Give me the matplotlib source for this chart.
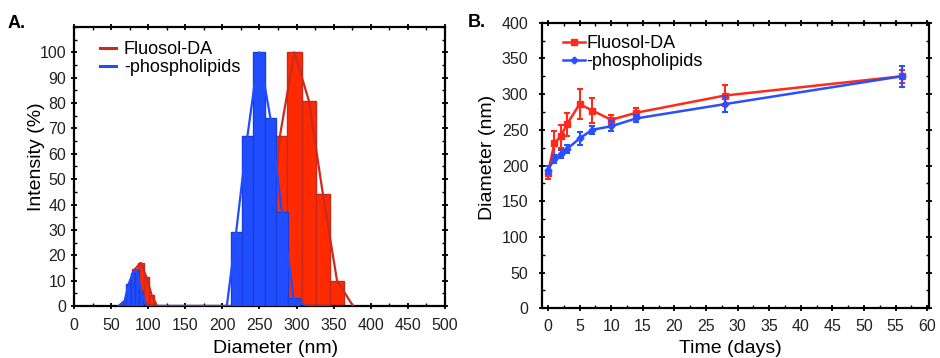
import numpy as np
import matplotlib
matplotlib.use("Agg")
import matplotlib.pyplot as plt
from matplotlib.ticker import MultipleLocator
from matplotlib.lines import Line2D

plt.rcParams['font.family'] = ['Liberation Sans', 'DejaVu Sans']

# ---------------- Panel A data (DLS size distribution) ----------------
red_small_edges = [66, 71, 78, 86, 94, 101, 108]
red_small_heights = [2, 7.5, 14.5, 17, 11.5, 4.5]
red_big_edges = [268, 287, 307, 326, 345, 364]
red_big_heights = [67, 100, 81, 44, 10]

blue_small_edges = [66, 70.5, 76.5, 82, 87.5, 93]
blue_small_heights = [2, 8.5, 13, 14, 6]
blue_big_edges = [211, 226, 241.5, 257, 272.5, 288, 304]
blue_big_heights = [29, 67, 100, 74, 37, 3]

red_zero_x = [62, 112, 258, 376]
blue_zero_x = [60, 98, 206, 312, 345]

# ---------------- Panel B data (size vs time) ----------------
days = [0, 1, 2, 3, 5, 7, 10, 14, 28, 56]
fluosol = [190, 231, 241, 258, 286, 277, 264, 274, 298, 325]
fluosol_err = [9, 17, 16, 16, 21, 18, 7, 6, 15, 9]
phospho = [194, 209, 216, 223, 238, 250, 255, 266, 286, 325]
phospho_err = [6, 6, 6, 6, 9, 6, 7, 5, 11, 15]

label_red = "Fluosol-DA"
label_blue = "-phospholipids"

RED_BAR = "#ff2a00"
RED_EDGE = "#c8281e"
RED_LINE = "#cc2a1e"
BLUE_BAR = "#1f4dff"
BLUE_EDGE = "#1a3fd8"
BLUE_LINE = "#1f4dff"
B_RED = "#ff2a1a"
B_BLUE = "#2a4fff"


def centers(edges):
    e = np.asarray(edges, dtype=float)
    return (e[:-1] + e[1:]) / 2


def widths(edges):
    e = np.asarray(edges, dtype=float)
    return e[1:] - e[:-1]


fig = plt.figure(figsize=(9.4, 3.58), dpi=100)
axA = fig.add_axes([0.0787, 0.1453, 0.3947, 0.7793])
axB = fig.add_axes([0.5763, 0.1388, 0.412, 0.7978])

# ----- Panel A -----
for edges, h in [(red_small_edges, red_small_heights), (red_big_edges, red_big_heights)]:
    axA.bar(edges[:-1], h, width=widths(edges), align='edge', color=RED_BAR,
            edgecolor=RED_EDGE, linewidth=1.0, zorder=2)
red_x = np.concatenate([[red_zero_x[0]], centers(red_small_edges), red_zero_x[1:3],
                        centers(red_big_edges), [red_zero_x[3]]])
red_y = np.concatenate([[0], red_small_heights, [0, 0], red_big_heights, [0]])
axA.plot(red_x, red_y, color=RED_LINE, lw=1.6, zorder=3)

for edges, h in [(blue_small_edges, blue_small_heights), (blue_big_edges, blue_big_heights)]:
    axA.bar(edges[:-1], h, width=widths(edges), align='edge', color=BLUE_BAR,
            edgecolor=BLUE_EDGE, linewidth=1.0, zorder=4)
blue_x = np.concatenate([[blue_zero_x[0]], centers(blue_small_edges), blue_zero_x[1:3],
                         centers(blue_big_edges), blue_zero_x[3:]])
blue_y = np.concatenate([[0], blue_small_heights, [0, 0], blue_big_heights, [0, 0]])
axA.plot(blue_x, blue_y, color=BLUE_LINE, lw=1.6, zorder=5)

handlesA = [Line2D([], [], color=RED_LINE, lw=2.2), Line2D([], [], color=BLUE_LINE, lw=2.2)]

axA.set_xlim(0, 500)
axA.set_ylim(0, 110)
axA.xaxis.set_major_locator(MultipleLocator(50))
axA.xaxis.set_minor_locator(MultipleLocator(25))
axA.yaxis.set_minor_locator(MultipleLocator(5))
axA.set_yticks(np.arange(0, 101, 10))
axA.set_xlabel("Diameter (nm)", fontsize=14)
axA.set_ylabel("Intensity (%)", fontsize=14)
axA.xaxis.set_label_coords(0.544, -0.122)
axA.yaxis.set_label_coords(-0.077, 0.534)
axA.legend(handlesA, [label_red, label_blue], loc='upper left',
           bbox_to_anchor=(0.035, 0.995), frameon=False, fontsize=13,
           handlelength=0.9, handletextpad=0.45, labelspacing=0.05, borderaxespad=0.3)

# ----- Panel B -----
axB.errorbar(days, fluosol, yerr=fluosol_err, color=B_RED, marker='s', ms=4,
             lw=1.8, capsize=2.5, elinewidth=1.5, capthick=1.5, zorder=3)
axB.errorbar(days, phospho, yerr=phospho_err, color=B_BLUE, marker='D', ms=3.5,
             lw=1.8, capsize=2.5, elinewidth=1.5, capthick=1.5, zorder=4)
handlesB = [Line2D([], [], color=B_RED, marker='s', ms=4, lw=1.8),
            Line2D([], [], color=B_BLUE, marker='D', ms=3.5, lw=1.8)]
axB.set_xlim(-1, 60.3)
axB.set_ylim(0, 400)
axB.xaxis.set_major_locator(MultipleLocator(5))
axB.xaxis.set_minor_locator(MultipleLocator(2.5))
axB.yaxis.set_major_locator(MultipleLocator(50))
axB.yaxis.set_minor_locator(MultipleLocator(25))
axB.set_xlabel("Time (days)", fontsize=14)
axB.set_ylabel("Diameter (nm)", fontsize=14)
axB.xaxis.set_label_coords(0.486, -0.111)
axB.yaxis.set_label_coords(-0.118, 0.528)
axB.legend(handlesB, [label_red, label_blue], loc='upper left',
           bbox_to_anchor=(0.022, 1.0), frameon=False, fontsize=13,
           handlelength=1.2, handletextpad=0.1, labelspacing=0.05, borderaxespad=0.3)

for ax in (axA, axB):
    for s in ax.spines.values():
        s.set_linewidth(1.6)
        s.set_color('black')
    ax.tick_params(which='major', direction='inout', length=5, width=1.3,
                   labelsize=11.5, top=True, right=True, colors='black',
                   labelcolor='#222222')
    ax.tick_params(which='minor', direction='in', length=2.5, width=1.0,
                   top=True, right=True)

axA.tick_params(axis='x', which='major', pad=6)
axA.tick_params(axis='y', which='major', pad=3)
axB.tick_params(axis='x', which='major', pad=5)
axB.tick_params(axis='y', which='major', pad=7)

fig.text(0.008, 0.934, "A.", fontsize=13, fontweight='bold', va='center', ha='left')
fig.text(0.498, 0.936, "B.", fontsize=13, fontweight='bold', va='center', ha='left')

fig.savefig("out.png", dpi=100)
